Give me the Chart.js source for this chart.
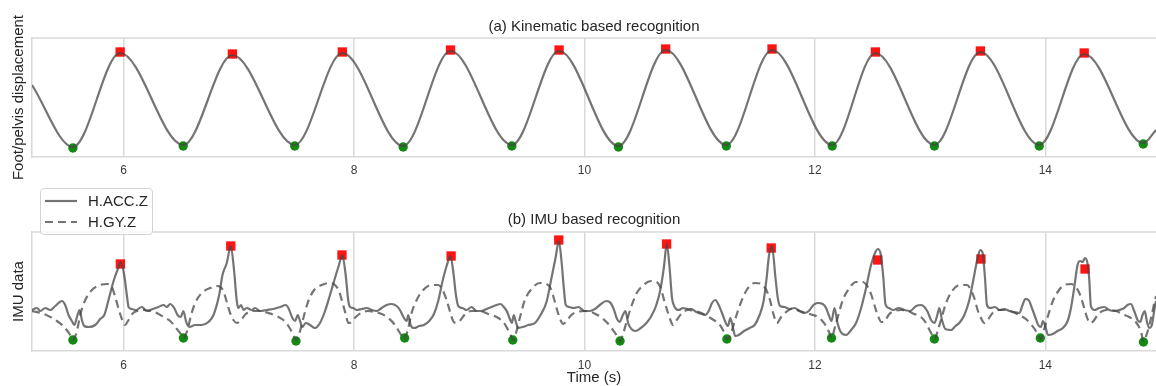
<!DOCTYPE html>
<html>
<head>
<meta charset="utf-8">
<title>Gait event recognition</title>
<script src="https://cdn.jsdelivr.net/npm/chart.js@4.4.0/dist/chart.umd.min.js"></script>
<style>
    html, body { margin: 0; padding: 0; background: #fff; }
    #wrap { position: relative; width: 1156px; height: 386px; overflow: hidden; font-family: "Liberation Sans", Arial, sans-serif; }
    #wrap canvas { position: absolute; left: 0; }
    #top-chart { top: 0; }
    #bottom-chart { top: 186px; }
    .legend { position: absolute; left: 40px; top: 188px; width: 111px; height: 45px; border: 1px solid #d4d4d4; border-radius: 4px; background: rgba(255, 255, 255, 0.8); }
    .legend .row { position: absolute; left: 0; width: 111px; height: 20px; }
    .legend svg { position: absolute; left: 4px; top: 8px; }
    .legend span { position: absolute; left: 47px; top: 0; font-size: 15px; line-height: 20px; color: #262626; }
</style>
</head>
<body>
<div id="wrap">
    <canvas id="top-chart" width="1156" height="186"></canvas>
    <canvas id="bottom-chart" width="1156" height="200"></canvas>
    <div class="legend">
        <div class="row" style="top: 2px;">
            <svg width="32" height="4"><line x1="0" y1="2" x2="32" y2="2" stroke="rgba(70,70,70,0.75)" stroke-width="2.2"/></svg>
            <span>H.ACC.Z</span>
        </div>
        <div class="row" style="top: 23px;">
            <svg width="32" height="4"><line x1="0" y1="2" x2="32" y2="2" stroke="rgba(70,70,70,0.75)" stroke-width="2.2" stroke-dasharray="8 5"/></svg>
            <span>H.GY.Z</span>
        </div>
    </div>
</div>
<script>
// --- Axis settings ---
const xTicks = [6, 8, 10, 12, 14];
const xMin = 5.206;
const xMax = 14.96;

// --- (a) Foot/pelvis displacement ---
const footTime = [5.206, 5.561, 5.971, 6.518, 6.945, 7.486, 7.899, 8.427, 8.838, 9.370, 9.780, 10.295,
    10.705, 11.231, 11.628, 12.150, 12.525, 13.037, 13.436, 13.947, 14.337, 14.849, 14.96];
const footValue = [0.72, 0.10, 1.04, 0.12, 1.02, 0.12, 1.04, 0.11, 1.06, 0.12, 1.06, 0.11,
    1.07, 0.12, 1.07, 0.12, 1.04, 0.12, 1.05, 0.12, 1.03, 0.14, 0.27];

const footPeakTime = [5.971, 6.945, 7.899, 8.838, 9.780, 10.705, 11.628, 12.525, 13.436, 14.337];
const footPeakValue = [1.05, 1.03, 1.05, 1.07, 1.07, 1.08, 1.08, 1.05, 1.06, 1.04];
const footTroughTime = [5.561, 6.518, 7.486, 8.427, 9.370, 10.295, 11.231, 12.150, 13.037, 13.947, 14.849];
const footTroughValue = [0.09, 0.11, 0.11, 0.10, 0.11, 0.10, 0.11, 0.11, 0.11, 0.11, 0.13];

// --- (b) IMU data: H.ACC.Z ---
const accTime = [5.206, 5.249, 5.278, 5.321, 5.364, 5.408, 5.466, 5.494, 5.523, 5.552, 5.573, 5.596, 5.619, 5.639,
    5.659, 5.697, 5.755, 5.798, 5.833, 5.870, 5.914, 5.948, 5.977, 6.006, 6.029, 6.044, 6.072, 6.110, 6.159,
    6.203, 6.255, 6.304, 6.347, 6.376, 6.405, 6.440, 6.469, 6.497, 6.520, 6.544, 6.572, 6.622, 6.679, 6.737,
    6.781, 6.830, 6.859, 6.896, 6.931, 6.960, 6.983, 6.997, 7.020, 7.041, 7.070, 7.113, 7.142, 7.185, 7.243,
    7.301, 7.359, 7.408, 7.431, 7.466, 7.489, 7.512, 7.532, 7.552, 7.581, 7.619, 7.662, 7.705, 7.749, 7.792,
    7.830, 7.870, 7.899, 7.928, 7.951, 7.966, 7.994, 8.023, 8.067, 8.110, 8.153, 8.197, 8.240, 8.283, 8.327,
    8.370, 8.399, 8.434, 8.457, 8.471, 8.491, 8.520, 8.567, 8.607, 8.653, 8.694, 8.731, 8.769, 8.804, 8.838,
    8.861, 8.885, 8.905, 8.942, 8.977, 9.020, 9.064, 9.107, 9.150, 9.194, 9.237, 9.272, 9.301, 9.330, 9.353,
    9.370, 9.387, 9.405, 9.425, 9.463, 9.512, 9.570, 9.619, 9.671, 9.714, 9.749, 9.778, 9.801, 9.821, 9.838,
    9.867, 9.908, 9.948, 9.983, 10.003, 10.046, 10.090, 10.133, 10.191, 10.228, 10.257, 10.283, 10.306, 10.330,
    10.356, 10.379, 10.408, 10.442, 10.489, 10.538, 10.581, 10.624, 10.662, 10.691, 10.714, 10.737, 10.760,
    10.783, 10.818, 10.856, 10.893, 10.928, 10.971, 11.015, 11.049, 11.078, 11.107, 11.136, 11.165, 11.194,
    11.223, 11.246, 11.266, 11.286, 11.309, 11.338, 11.385, 11.434, 11.477, 11.520, 11.555, 11.581, 11.601,
    11.627, 11.658, 11.678, 11.698, 11.736, 11.779, 11.823, 11.866, 11.909, 11.947, 11.987, 12.025, 12.068,
    12.097, 12.120, 12.144, 12.170, 12.196, 12.224, 12.271, 12.314, 12.357, 12.401, 12.444, 12.487, 12.525,
    12.545, 12.571, 12.594, 12.612, 12.641, 12.681, 12.727, 12.777, 12.826, 12.878, 12.921, 12.950, 12.979,
    13.008, 13.037, 13.060, 13.080, 13.103, 13.132, 13.181, 13.220, 13.253, 13.297, 13.340, 13.378, 13.412,
    13.435, 13.456, 13.476, 13.493, 13.522, 13.563, 13.603, 13.643, 13.687, 13.730, 13.774, 13.802, 13.826,
    13.854, 13.883, 13.912, 13.938, 13.961, 13.979, 13.996, 14.025, 14.065, 14.106, 14.152, 14.193, 14.222,
    14.250, 14.279, 14.302, 14.323, 14.343, 14.363, 14.380, 14.395, 14.424, 14.467, 14.511, 14.554, 14.597,
    14.641, 14.684, 14.713, 14.742, 14.771, 14.800, 14.823, 14.843, 14.863, 14.880, 14.901, 14.924, 14.944, 14.96];
const accValue = [0.41, 0.43, 0.40, 0.43, 0.41, 0.45, 0.50, 0.46, 0.36, 0.30, 0.26, 0.34, 0.41, 0.31,
    0.25, 0.24, 0.26, 0.32, 0.36, 0.51, 0.70, 0.81, 0.89, 0.76, 0.56, 0.44, 0.42, 0.41, 0.44,
    0.40, 0.42, 0.44, 0.46, 0.44, 0.47, 0.43, 0.36, 0.34, 0.40, 0.29, 0.24, 0.26, 0.26, 0.29,
    0.36, 0.56, 0.76, 0.88, 1.05, 0.80, 0.50, 0.43, 0.46, 0.41, 0.43, 0.41, 0.43, 0.40, 0.41,
    0.42, 0.44, 0.46, 0.43, 0.33, 0.30, 0.36, 0.30, 0.24, 0.28, 0.26, 0.23, 0.28, 0.40, 0.56,
    0.71, 0.86, 0.96, 0.76, 0.50, 0.44, 0.43, 0.41, 0.42, 0.43, 0.41, 0.40, 0.43, 0.46, 0.47,
    0.45, 0.41, 0.33, 0.30, 0.36, 0.26, 0.23, 0.25, 0.26, 0.30, 0.37, 0.50, 0.70, 0.85, 0.95,
    0.80, 0.56, 0.45, 0.43, 0.41, 0.44, 0.40, 0.40, 0.42, 0.44, 0.46, 0.47, 0.44, 0.39, 0.32,
    0.28, 0.36, 0.29, 0.23, 0.24, 0.26, 0.28, 0.36, 0.49, 0.73, 0.93, 1.10, 0.90, 0.63, 0.46,
    0.44, 0.43, 0.44, 0.41, 0.40, 0.40, 0.42, 0.46, 0.50, 0.48, 0.41, 0.32, 0.29, 0.35,
    0.40, 0.28, 0.22, 0.20, 0.23, 0.28, 0.35, 0.46, 0.63, 0.85, 1.07, 0.86, 0.53,
    0.44, 0.41, 0.43, 0.42, 0.42, 0.39, 0.37, 0.36, 0.40, 0.48, 0.51, 0.46, 0.38,
    0.29, 0.25, 0.33, 0.25, 0.15, 0.16, 0.20, 0.23, 0.26, 0.36, 0.50, 0.73, 0.95,
    1.05, 0.73, 0.53, 0.45, 0.44, 0.42, 0.43, 0.40, 0.38, 0.40, 0.46, 0.48, 0.47,
    0.43, 0.36, 0.30, 0.43, 0.28, 0.19, 0.16, 0.21, 0.28, 0.43, 0.63, 0.86, 0.99,
    1.02, 0.97, 0.73, 0.47, 0.43, 0.41, 0.43, 0.41, 0.40, 0.45, 0.46, 0.44, 0.39,
    0.31, 0.28, 0.35, 0.43, 0.31, 0.22, 0.21, 0.25, 0.28, 0.36, 0.51, 0.73, 0.93,
    1.01, 0.98, 0.73, 0.46, 0.43, 0.44, 0.41, 0.42, 0.40, 0.39, 0.38, 0.46, 0.52,
    0.51, 0.43, 0.34, 0.26, 0.24, 0.30, 0.26, 0.16, 0.17, 0.20, 0.23, 0.30, 0.43,
    0.63, 0.86, 0.90, 0.89, 0.93, 0.89, 0.73, 0.45, 0.41, 0.43, 0.44, 0.41, 0.40,
    0.41, 0.43, 0.46, 0.47, 0.40, 0.31, 0.29, 0.36, 0.40, 0.30, 0.23, 0.26, 0.40, 0.50];

// --- (b) IMU data: H.GY.Z ---
const gyTime = [5.206, 5.307, 5.422, 5.486, 5.532, 5.561, 5.596, 5.624, 5.668, 5.726, 5.798, 5.861, 5.899,
    5.931, 5.960, 5.989, 6.012, 6.044, 6.075, 6.116, 6.174, 6.231, 6.289, 6.347, 6.405, 6.463, 6.497, 6.520,
    6.555, 6.584, 6.622, 6.679, 6.752, 6.816, 6.867, 6.896, 6.925, 6.954, 6.983, 7.020, 7.061, 7.119, 7.185,
    7.257, 7.330, 7.387, 7.431, 7.466, 7.497, 7.532, 7.561, 7.598, 7.648, 7.720, 7.792, 7.835, 7.870, 7.899,
    7.928, 7.951, 7.980, 8.015, 8.061, 8.119, 8.182, 8.240, 8.298, 8.356, 8.399, 8.437, 8.471, 8.500, 8.544,
    8.601, 8.674, 8.731, 8.769, 8.804, 8.832, 8.861, 8.890, 8.925, 8.965, 9.020, 9.093, 9.165, 9.237, 9.295,
    9.338, 9.364, 9.382, 9.411, 9.439, 9.483, 9.541, 9.613, 9.671, 9.705, 9.734, 9.763, 9.792, 9.815, 9.844,
    9.887, 9.937, 10.003, 10.061, 10.113, 10.153, 10.200, 10.240, 10.278, 10.309, 10.338, 10.367, 10.408,
    10.454, 10.512, 10.581, 10.627, 10.662, 10.691, 10.720, 10.749, 10.769, 10.801, 10.847, 10.899, 10.957,
    11.015, 11.078, 11.136, 11.176, 11.211, 11.237, 11.275, 11.309, 11.356, 11.408, 11.477, 11.535, 11.578,
    11.610, 11.640, 11.670, 11.707, 11.750, 11.797, 11.843, 11.895, 11.953, 12.011, 12.057, 12.097, 12.126,
    12.144, 12.172, 12.201, 12.242, 12.300, 12.357, 12.415, 12.459, 12.490, 12.519, 12.548, 12.577, 12.606,
    12.646, 12.693, 12.748, 12.805, 12.863, 12.921, 12.964, 12.999, 13.022, 13.039, 13.065, 13.094, 13.138,
    13.190, 13.260, 13.320, 13.354, 13.383, 13.412, 13.441, 13.470, 13.499, 13.542, 13.600, 13.658, 13.716,
    13.774, 13.831, 13.880, 13.918, 13.947, 13.961, 13.990, 14.025, 14.065, 14.112, 14.164, 14.222, 14.265,
    14.302, 14.337, 14.360, 14.389, 14.418, 14.453, 14.496, 14.554, 14.612, 14.669, 14.727, 14.785, 14.828,
    14.852, 14.880, 14.915, 14.953, 14.96];
const gyValue = [0.40, 0.37, 0.30, 0.24, 0.17, 0.11, 0.20, 0.36, 0.51, 0.61, 0.66, 0.67, 0.64,
    0.53, 0.41, 0.31, 0.26, 0.31, 0.37, 0.40, 0.41, 0.40, 0.38, 0.34, 0.30, 0.22, 0.17, 0.13,
    0.21, 0.35, 0.48, 0.58, 0.63, 0.65, 0.60, 0.49, 0.38, 0.31, 0.28, 0.31, 0.37, 0.40, 0.40,
    0.38, 0.35, 0.31, 0.25, 0.18, 0.11, 0.20, 0.33, 0.48, 0.60, 0.66, 0.68, 0.66, 0.60, 0.49,
    0.37, 0.28, 0.29, 0.34, 0.38, 0.40, 0.39, 0.37, 0.33, 0.26, 0.18, 0.12, 0.23, 0.38, 0.51,
    0.61, 0.66, 0.66, 0.61, 0.51, 0.40, 0.30, 0.28, 0.31, 0.37, 0.40, 0.40, 0.37, 0.34, 0.29,
    0.21, 0.15, 0.11, 0.20, 0.33, 0.51, 0.62, 0.68, 0.67, 0.63, 0.53, 0.41, 0.31, 0.27, 0.30,
    0.36, 0.39, 0.40, 0.39, 0.36, 0.33, 0.28, 0.22, 0.16, 0.10, 0.18, 0.30, 0.45,
    0.58, 0.66, 0.70, 0.69, 0.63, 0.51, 0.40, 0.30, 0.26, 0.31, 0.38, 0.41, 0.40,
    0.38, 0.34, 0.30, 0.26, 0.19, 0.12, 0.19, 0.32, 0.48, 0.61, 0.68, 0.67, 0.61,
    0.51, 0.37, 0.28, 0.34, 0.39, 0.42, 0.41, 0.39, 0.37, 0.35, 0.31, 0.25, 0.18,
    0.13, 0.23, 0.35, 0.51, 0.63, 0.69, 0.69, 0.64, 0.56, 0.45, 0.35, 0.29, 0.30,
    0.37, 0.40, 0.41, 0.40, 0.37, 0.34, 0.28, 0.20, 0.15, 0.12, 0.20, 0.31, 0.48,
    0.60, 0.66, 0.66, 0.61, 0.53, 0.41, 0.33, 0.28, 0.31, 0.38, 0.41, 0.41, 0.39,
    0.36, 0.32, 0.26, 0.20, 0.14, 0.12, 0.22, 0.36, 0.50, 0.60, 0.66, 0.67, 0.64,
    0.56, 0.43, 0.34, 0.28, 0.30, 0.36, 0.40, 0.41, 0.40, 0.37, 0.34, 0.29, 0.20,
    0.10, 0.17, 0.32, 0.52, 0.55];

// Detected events in the IMU signals
const accPeakTime = [5.973, 6.931, 7.896, 8.843, 9.777, 10.713, 11.621, 12.545, 13.441, 14.344];
const accPeakValue = [0.87, 1.05, 0.96, 0.95, 1.11, 1.07, 1.03, 0.91, 0.92, 0.82];
const gyTroughTime = [5.561, 6.520, 7.497, 8.440, 9.378, 10.309, 11.236, 12.144, 13.037, 13.956, 14.851];
const gyTroughValue = [0.11, 0.13, 0.10, 0.13, 0.11, 0.10, 0.12, 0.13, 0.12, 0.13, 0.09];

// --- Styling ---
const FONT = '"Liberation Sans", Arial, sans-serif';
const TEXT = '#262626';
const GRID = '#d9d9d9';
const LINE = 'rgba(70, 70, 70, 0.75)';
const RED = 'rgba(255, 0, 0, 0.92)';
const GREEN = 'rgba(0, 128, 0, 0.92)';

Chart.defaults.font.family = FONT;
Chart.defaults.color = TEXT;

const toPoints = (xs, ys) => xs.map((x, i) => ({ x, y: ys[i] }));

function lineDataset(label, xs, ys, dash) {
    return {
        label,
        data: toPoints(xs, ys),
        showLine: true,
        borderColor: LINE,
        borderWidth: 2.2,
        borderDash: dash || [],
        cubicInterpolationMode: 'monotone',
        pointRadius: 0,
        order: 0
    };
}

function markerDataset(label, xs, ys, style, color, radius) {
    return {
        label,
        data: toPoints(xs, ys),
        showLine: false,
        pointStyle: style,
        pointRadius: radius,
        pointBackgroundColor: color,
        pointBorderWidth: 0,
        order: 1
    };
}

// Top edge of the frame (the axes draw the other sides)
const frameTop = {
    id: 'frameTop',
    beforeDatasetsDraw(chart) {
        const { ctx, chartArea } = chart;
        ctx.save();
        ctx.strokeStyle = GRID;
        ctx.lineWidth = 1.5;
        ctx.beginPath();
        ctx.moveTo(chartArea.left, chartArea.top);
        ctx.lineTo(chartArea.right, chartArea.top);
        ctx.stroke();
        ctx.restore();
    }
};

function buildOptions(cfg) {
    return {
        responsive: false,
        animation: false,
        events: [],
        layout: { padding: 0, autoPadding: false },
        plugins: {
            legend: { display: false },
            tooltip: { enabled: false },
            title: {
                display: true,
                text: cfg.title,
                fullSize: false,
                color: TEXT,
                font: { size: 15, weight: 'normal', lineHeight: 1.2 },
                padding: cfg.titlePadding
            }
        },
        scales: {
            x: {
                type: 'linear',
                min: xMin,
                max: xMax,
                afterBuildTicks: (scale) => { scale.ticks = xTicks.map(v => ({ value: v })); },
                afterFit: (scale) => { scale.height = cfg.xHeight; },
                ticks: { padding: cfg.tickPadding, color: '#3a3a3a', font: { size: 12 } },
                grid: { color: GRID, lineWidth: 1.5, drawTicks: false },
                border: { color: GRID, width: 1.5 },
                title: cfg.xTitle ? {
                    display: true,
                    text: cfg.xTitle,
                    color: TEXT,
                    font: { size: 15, lineHeight: 1.0 },
                    padding: { top: 0, bottom: 0.5 }
                } : { display: false }
            },
            y: {
                min: 0,
                max: 1.19,
                afterFit: (scale) => { scale.width = 32; },
                ticks: { display: false },
                grid: { display: false },
                border: { color: GRID, width: 1.5 },
                title: {
                    display: true,
                    text: cfg.yTitle,
                    color: TEXT,
                    font: { size: 15, lineHeight: 1.2 },
                    padding: { top: 10, bottom: 0 }
                }
            }
        }
    };
}

// (a) Kinematic based recognition
new Chart(document.getElementById('top-chart'), {
    type: 'scatter',
    data: {
        datasets: [
            lineDataset('Foot/pelvis', footTime, footValue),
            markerDataset('Peaks', footPeakTime, footPeakValue, 'rect', RED, 6.6),
            markerDataset('Troughs', footTroughTime, footTroughValue, 'circle', GREEN, 4.7)
        ]
    },
    options: buildOptions({
        title: '(a) Kinematic based recognition',
        titlePadding: { top: 17.5, bottom: 2.5 },
        yTitle: 'Foot/pelvis displacement',
        xHeight: 29,
        tickPadding: 6
    }),
    plugins: [frameTop]
});

// (b) IMU based recognition
new Chart(document.getElementById('bottom-chart'), {
    type: 'scatter',
    data: {
        datasets: [
            lineDataset('H.ACC.Z', accTime, accValue),
            lineDataset('H.GY.Z', gyTime, gyValue, [8, 5]),
            markerDataset('Peaks', accPeakTime, accPeakValue, 'rect', RED, 6.6),
            markerDataset('Troughs', gyTroughTime, gyTroughValue, 'circle', GREEN, 4.7)
        ]
    },
    options: buildOptions({
        title: '(b) IMU based recognition',
        titlePadding: { top: 25, bottom: 3 },
        yTitle: 'IMU data',
        xTitle: 'Time (s)',
        xHeight: 35,
        tickPadding: 7
    }),
    plugins: [frameTop]
});
</script>
</body>
</html>
